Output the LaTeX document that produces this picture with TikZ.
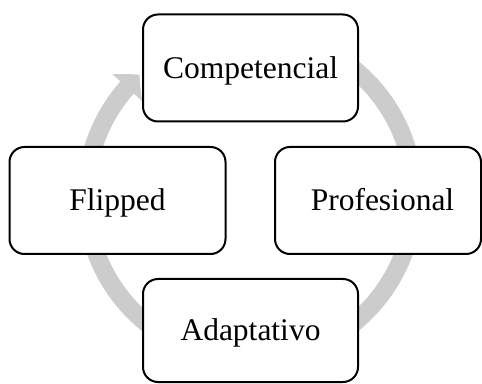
\documentclass[tikz,border=0pt]{standalone}
\usepackage{fontspec}
\setmainfont{Liberation Serif}
\usetikzlibrary{arrows.meta,bending,calc}
\definecolor{ringgray}{RGB}{204,204,204}
\tikzset{
  stage/.style={draw=black, line width=2pt, fill=white, rounded corners=15pt,
    minimum width=215pt, minimum height=107pt, inner sep=0pt,
    text height=21pt, text depth=0pt,
    font=\fontsize{31.5}{36}\selectfont},
  cycle ring/.style={draw=ringgray, line width=18pt,
    -{Triangle[width=39pt,length=18pt,bend]}}
}
\begin{document}
\begin{tikzpicture}[x=1pt,y=1pt]
  \useasboundingbox (0,0) rectangle (482,383);
  % centre of the cycle and the start of the ring
  \coordinate (hub) at (250,187);
  \coordinate (ringstart) at ($(hub)+(60:164pt)$);
  % continuous cycle arrow behind the stages
  \draw[cycle ring] (ringstart) arc[start angle=60, end angle=-227.7, radius=164pt];
  % stages
  \node[stage] (comp) at (250.5,315) {Competencial};
  \node[stage, minimum width=216pt] (flip) at (117.5,182.5) {Flipped};
  \node[stage, minimum width=206pt] (prof) at (378,182.5) {\hspace*{9pt}Profesional};
  \node[stage, minimum height=103pt] (adap) at (250.5,52.5) {Adaptativo};
\end{tikzpicture}
\end{document}
